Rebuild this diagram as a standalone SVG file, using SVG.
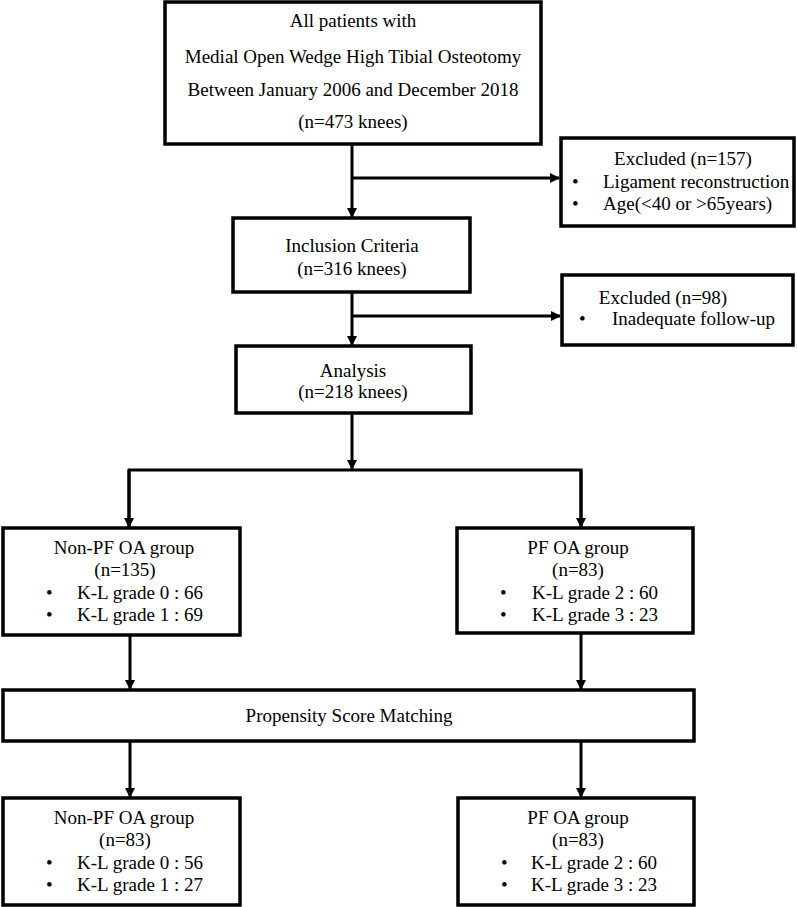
<svg xmlns="http://www.w3.org/2000/svg" width="797" height="907" viewBox="0 0 797 907">
<style>
.box{fill:#fff;stroke:#000;stroke-width:3.5}
.ln{fill:none;stroke:#000;stroke-width:3}
text{font-family:"Liberation Serif","Times New Roman",serif;font-size:19px;fill:#000}
.c{text-anchor:middle}
</style>
<defs>
<marker id="ah" markerWidth="10" markerHeight="10" refX="9" refY="5" orient="auto" markerUnits="userSpaceOnUse">
<path d="M0,0 L10,5 L0,10 Z" fill="#000"/>
</marker>
</defs>
<rect width="797" height="907" fill="#fff"/>
<g id="connectors">
<line class="ln" x1="352" y1="144" x2="352" y2="217" marker-end="url(#ah)"/>
<line class="ln" x1="352" y1="178" x2="559" y2="178" marker-end="url(#ah)"/>
<line class="ln" x1="352" y1="292" x2="352" y2="345" marker-end="url(#ah)"/>
<line class="ln" x1="352" y1="316" x2="560" y2="316" marker-end="url(#ah)"/>
<line class="ln" x1="352" y1="413" x2="352" y2="469" marker-end="url(#ah)"/>
<polyline class="ln" points="129,527 129,470 581,470 581,527"/>
<line class="ln" x1="129" y1="470" x2="129" y2="527" marker-end="url(#ah)"/>
<line class="ln" x1="581" y1="470" x2="581" y2="527" marker-end="url(#ah)"/>
<line class="ln" x1="130" y1="635" x2="130" y2="689" marker-end="url(#ah)"/>
<line class="ln" x1="581" y1="633" x2="581" y2="689" marker-end="url(#ah)"/>
<line class="ln" x1="130" y1="741" x2="130" y2="797" marker-end="url(#ah)"/>
<line class="ln" x1="581" y1="741" x2="581" y2="797" marker-end="url(#ah)"/>
</g>
<g id="all-patients">
<rect class="box" x="165" y="2" width="376" height="142"/>
<text class="c" x="353" y="27">All patients with</text>
<text class="c" x="353" y="63">Medial Open Wedge High Tibial Osteotomy</text>
<text class="c" x="353" y="96">Between January 2006 and December 2018</text>
<text class="c" x="353" y="128">(n=473 knees)</text>
</g>
<g id="excluded-157">
<rect class="box" x="561" y="138" width="233" height="88"/>
<text class="c" x="683" y="165">Excluded (n=157)</text>
<text x="572" y="188">•</text>
<text x="603" y="188">Ligament reconstruction</text>
<text x="572" y="210">•</text>
<text x="603" y="210">Age(&lt;40 or &gt;65years)</text>
</g>
<g id="inclusion">
<rect class="box" x="233" y="218" width="237" height="74"/>
<text class="c" x="352" y="252">Inclusion Criteria</text>
<text class="c" x="352" y="275">(n=316 knees)</text>
</g>
<g id="excluded-98">
<rect class="box" x="562" y="275" width="231" height="70"/>
<text class="c" x="663" y="304">Excluded (n=98)</text>
<text x="579" y="325">•</text>
<text x="612" y="325">Inadequate follow-up</text>
</g>
<g id="analysis">
<rect class="box" x="236" y="346" width="235" height="67"/>
<text class="c" x="353" y="377">Analysis</text>
<text class="c" x="353" y="398">(n=218 knees)</text>
</g>
<g id="non-pf-oa">
<rect class="box" x="3" y="528" width="237" height="107"/>
<text class="c" x="124" y="554">Non-PF OA group</text>
<text class="c" x="125" y="576">(n=135)</text>
<text x="46" y="599">•</text>
<text x="77" y="599">K-L grade 0 : 66</text>
<text x="46" y="621">•</text>
<text x="77" y="621">K-L grade 1 : 69</text>
</g>
<g id="pf-oa">
<rect class="box" x="457" y="528" width="236" height="105"/>
<text class="c" x="578" y="554">PF OA group</text>
<text class="c" x="578" y="576">(n=83)</text>
<text x="500" y="599">•</text>
<text x="532" y="599">K-L grade 2 : 60</text>
<text x="500" y="621">•</text>
<text x="532" y="621">K-L grade 3 : 23</text>
</g>
<g id="psm">
<rect class="box" x="3" y="690" width="691" height="51"/>
<text class="c" x="349" y="722">Propensity Score Matching</text>
</g>
<g id="non-pf-oa-matched">
<rect class="box" x="3" y="798" width="237" height="107"/>
<text class="c" x="124" y="824">Non-PF OA group</text>
<text class="c" x="125" y="846">(n=83)</text>
<text x="46" y="869">•</text>
<text x="77" y="869">K-L grade 0 : 56</text>
<text x="46" y="891">•</text>
<text x="77" y="891">K-L grade 1 : 27</text>
</g>
<g id="pf-oa-matched">
<rect class="box" x="458" y="798" width="236" height="107"/>
<text class="c" x="578" y="824">PF OA group</text>
<text class="c" x="578" y="846">(n=83)</text>
<text x="501" y="869">•</text>
<text x="531" y="869">K-L grade 2 : 60</text>
<text x="501" y="891">•</text>
<text x="531" y="891">K-L grade 3 : 23</text>
</g>
</svg>
